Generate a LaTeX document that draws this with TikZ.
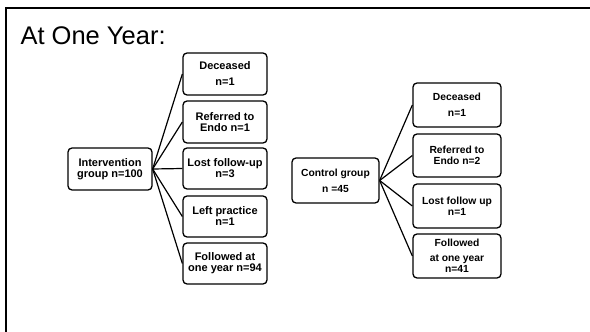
\documentclass[tikz,border=0pt]{standalone}
\usepackage{fontspec}
\setmainfont{Liberation Sans}
\begin{document}
\begin{tikzpicture}[x=1pt,y=-1pt,
  lbox/.style={draw, line width=1.3pt, rounded corners=4pt, inner sep=0pt, align=center,
    font=\fontsize{11}{11}\selectfont\bfseries},
  rbox/.style={draw, line width=1.3pt, rounded corners=4pt, inner sep=0pt, align=center,
    font=\fontsize{10.3}{11}\selectfont\bfseries},
  conn/.style={line width=1.2pt}]
\useasboundingbox (0,0) rectangle (590,332);
\draw[line width=2pt] (6,333) -- (6,8) -- (591,8);
\node[anchor=base west, font=\fontsize{25.5}{26}\selectfont] (title) at (17,44) {At One Year:};
% left group
\node[lbox, minimum width=84pt, minimum height=42pt] (int) at (110,169) {Intervention\\group n=100};
\node[lbox, minimum width=84pt, minimum height=42pt] (ldec) at (225,74) {Deceased\\[5pt]n=1};
\node[lbox, minimum width=84pt, minimum height=42pt] (lref) at (225,122) {Referred to\\Endo n=1};
\node[lbox, minimum width=84pt, minimum height=41pt] (llost) at (225,168.5) {Lost follow-up\\n=3};
\node[lbox, minimum width=84pt, minimum height=41pt] (lleft) at (225,216.5) {Left practice\\n=1};
\node[lbox, minimum width=84pt, minimum height=41pt] (lfol) at (225,263.5) {Followed at\\one year n=94};
\foreach \t in {ldec,lref,llost,lleft,lfol} \draw[conn] (int.east) -- (\t.west);
% right group
\node[rbox, minimum width=87pt, minimum height=45pt] (ctl) at (335.5,180.5) {Control group\\[5pt]n =45};
\node[rbox, minimum width=88pt, minimum height=44pt] (rdec) at (457,105) {Deceased\\[5pt]n=1};
\node[rbox, minimum width=88pt, minimum height=43pt] (rref) at (457,155.5) {Referred to\\Endo n=2};
\node[rbox, minimum width=88pt, minimum height=44pt] (rlost) at (457,206) {Lost follow up\\n=1};
\node[rbox, minimum width=88pt, minimum height=44pt] (rfol) at (457,256) {Followed\\[4pt]at one year\\n=41};
\foreach \t in {rdec,rref,rlost,rfol} \draw[conn] (ctl.east) -- (\t.west);
\end{tikzpicture}
\end{document}
